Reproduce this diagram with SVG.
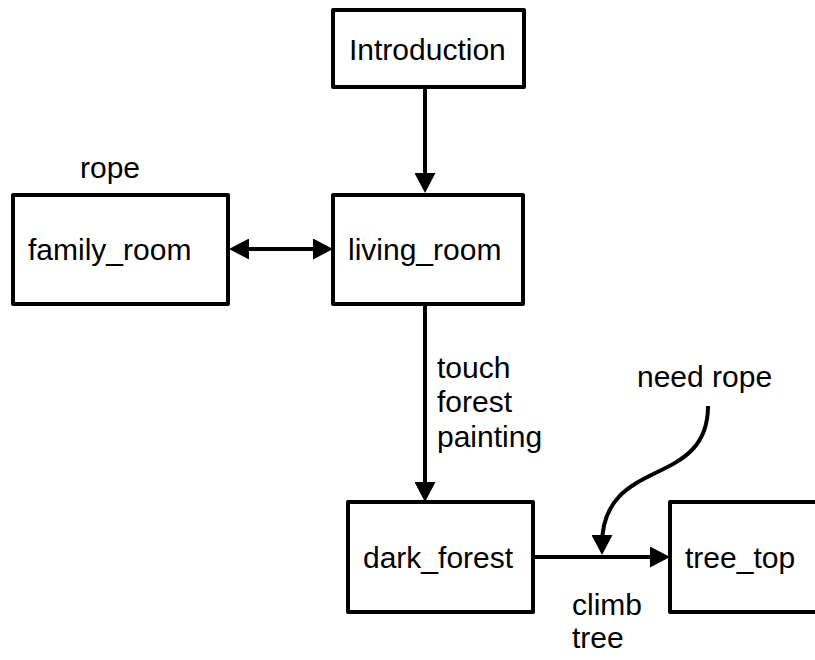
<svg xmlns="http://www.w3.org/2000/svg" width="815" height="660" viewBox="0 0 815 660">
  <style>
    .box { fill: #ffffff; stroke: #000000; stroke-width: 4; stroke-linejoin: round; }
    .lbl { font-family: "Liberation Sans", Arial, sans-serif; font-size: 30px; fill: #000000; }
    .edge { fill: none; stroke: #000000; stroke-width: 4; }
  </style>
  <defs>
    <marker id="arrow" markerUnits="userSpaceOnUse" markerWidth="20" markerHeight="21" refX="10" refY="10.5" orient="auto-start-reverse">
      <path d="M0,0 L20,10.5 L0,21 z" fill="#000000"/>
    </marker>
  </defs>
  <rect width="815" height="660" fill="#ffffff"/>

  <g id="connectors">
    <path class="edge" d="M425,87 L425,183" marker-end="url(#arrow)"/>
    <path class="edge" d="M239,249 L323,249" marker-start="url(#arrow)" marker-end="url(#arrow)"/>
    <path class="edge" d="M425,305 L425,492" marker-end="url(#arrow)"/>
    <path class="edge" d="M533,557 L660,557" marker-end="url(#arrow)"/>
    <path class="edge" d="M708,406 C708,490 602,455 602,545" marker-end="url(#arrow)"/>
    <text class="lbl" x="437" y="378">touch</text>
    <text class="lbl" x="437" y="412">forest</text>
    <text class="lbl" x="437" y="447">painting</text>
    <text class="lbl" x="572" y="615">climb</text>
    <text class="lbl" x="572" y="648">tree</text>
    <text class="lbl" x="637" y="387">need rope</text>
  </g>

  <g id="introduction">
    <rect class="box" x="333" y="10" width="191" height="77"/>
    <text class="lbl" x="349" y="60">Introduction</text>
  </g>

  <g id="family_room">
    <rect class="box" x="13" y="195" width="215" height="109"/>
    <text class="lbl" x="28" y="260">family_room</text>
    <text class="lbl" x="80" y="178">rope</text>
  </g>

  <g id="living_room">
    <rect class="box" x="333" y="195" width="190" height="109"/>
    <text class="lbl" x="348" y="260">living_room</text>
  </g>

  <g id="dark_forest">
    <rect class="box" x="348" y="502" width="185" height="110"/>
    <text class="lbl" x="363" y="568">dark_forest</text>
  </g>

  <g id="tree_top">
    <rect class="box" x="670" y="502" width="160" height="110"/>
    <text class="lbl" x="685" y="568">tree_top</text>
  </g>
</svg>
